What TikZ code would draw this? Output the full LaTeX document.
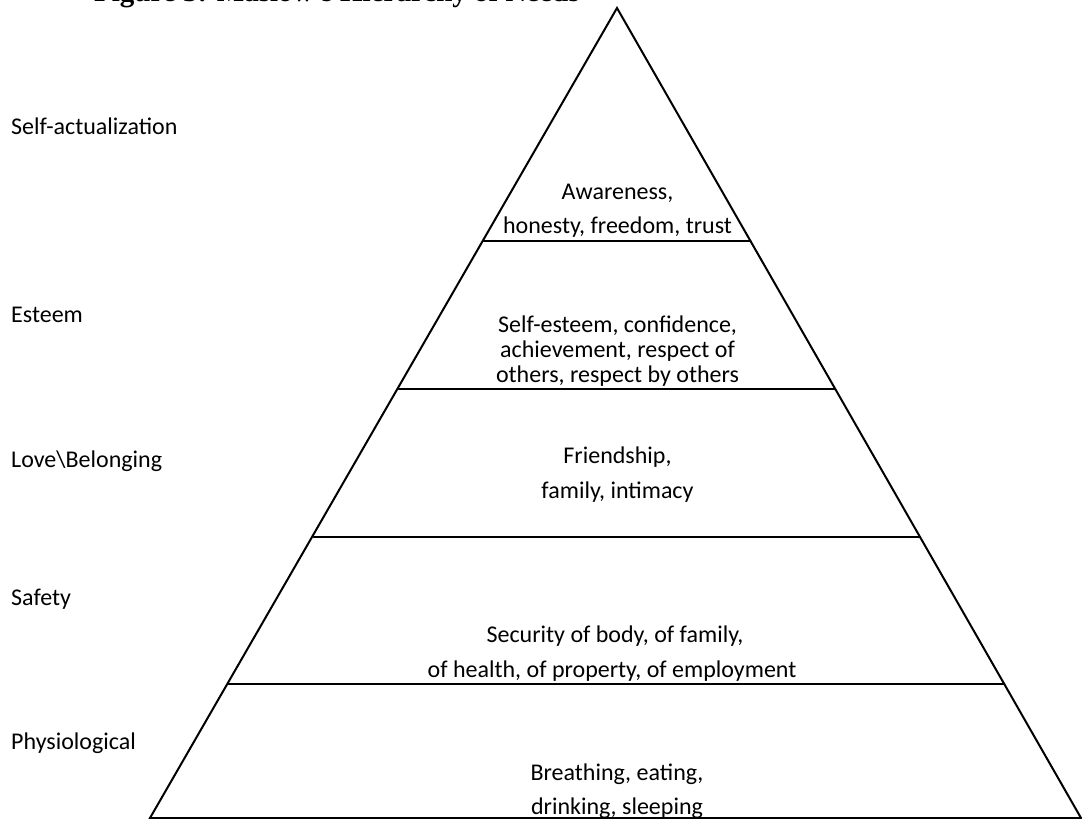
\documentclass[tikz,border=0pt]{standalone}
\usepackage{fontspec}
\setmainfont{Carlito}
\newfontfamily\titlefont{Liberation Serif}
\begin{document}
\begin{tikzpicture}[x=1pt,y=-1pt,
  edge/.style={line width=2pt, line cap=round, line join=miter},
  lbl/.style={font=\fontsize{24}{28}\selectfont, anchor=base west, inner sep=0pt},
  inner/.style={font=\fontsize{24}{28}\selectfont, anchor=base, inner sep=0pt}]
\useasboundingbox (0,0) rectangle (1082,819);
\clip (0,0) rectangle (1082,819);
% title, clipped at the top edge: only its lowest parts show
\node[anchor=south west, inner sep=0pt, font=\titlefont\bfseries\fontsize{29}{34}\selectfont] (title) at (94,8) {Figure 3: Maslow's Hierarchy of Needs};
% pyramid
\coordinate (apex) at (617,8);
\coordinate (bl) at (150,818);
\coordinate (br) at (1081,818);
\draw[edge] (bl) -- (apex) -- (br) -- cycle;
\coordinate (l1) at (483.5,241); \coordinate (r1) at (750.5,241);
\coordinate (l2) at (398.5,389); \coordinate (r2) at (835,389);
\coordinate (l3) at (313.5,537); \coordinate (r3) at (919.5,537);
\coordinate (l4) at (228.5,684); \coordinate (r4) at (1004,684);
\draw[edge] (l1) -- (r1);
\draw[edge] (l2) -- (r2);
\draw[edge] (l3) -- (r3);
\draw[edge] (l4) -- (r4);
% left labels
\node[lbl] (sa) at (11,134) {Self-actualization};
\node[lbl] (es) at (11,322) {Esteem};
\node[lbl] (lb) at (11,467) {Love\textbackslash Belonging};
\node[lbl] (sf) at (11,605) {Safety};
\node[lbl] (ph) at (11,749) {Physiological};
% inner texts
\node[inner] (t1a) at (617.5,199) {Awareness,};
\node[inner] (t1b) at (617.5,233) {honesty, freedom, trust};
\node[inner] (t2a) at (617.5,332.5) {Self-esteem, confidence,};
\node[inner] (t2b) at (617.5,357.5) {achievement, respect of};
\node[inner] (t2c) at (617.5,382) {others, respect by others};
\node[inner] (t3a) at (617.5,463) {Friendship,};
\node[inner] (t3b) at (617.5,498) {family, intimacy};
\node[inner] (t4a) at (615,642) {Security of body, of family,};
\node[inner] (t4b) at (612,677.5) {of health, of property, of employment};
\node[inner] (t5a) at (617,780) {Breathing, eating,};
\node[inner] (t5b) at (617,814) {drinking, sleeping};
\end{tikzpicture}
\end{document}
